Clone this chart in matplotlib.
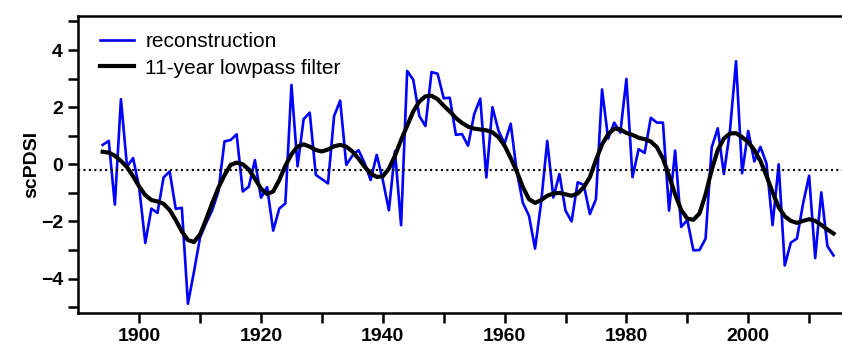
import numpy as np
import matplotlib.pyplot as plt

plt.rcParams['font.family'] = ['Liberation Sans', 'DejaVu Sans']

# годы и значения реконструкции scPDSI
years = np.arange(1894, 2015)
recon = [0.68, 0.82, -1.41, 2.28, -0.08, 0.22, -0.82, -2.75, -1.55, -1.70,
         -0.46, -0.25, -1.56, -1.52, -4.88, -3.75, -2.55, -2.05, -1.60, -0.95,
         0.80, 0.85, 1.05, -0.95, -0.78, 0.15, -1.17, -0.80, -2.32, -1.55,
         -1.37, 2.78, -0.07, 1.58, 1.81, -0.37, -0.52, -0.67, 1.69, 2.23,
         -0.02, 0.30, 0.50, 0.05, -0.55, 0.33, -0.55, -1.61, 0.46, -2.13,
         3.27, 2.96, 1.69, 1.34, 3.23, 3.17, 2.31, 2.33, 1.03, 1.06,
         0.65, 1.75, 2.30, -0.46, 2.00, 1.17, 0.73, 1.42, -0.25, -1.35,
         -1.80, -2.95, -1.33, 0.82, -1.16, -0.34, -1.62, -2.00, -0.63, -0.72,
         -1.74, -1.22, 2.62, 0.90, 1.46, 1.11, 2.99, -0.45, 0.53, 0.40,
         1.63, 1.46, 1.46, -1.62, 0.48, -2.19, -1.95, -3.01, -3.00, -2.60,
         0.59, 1.26, -0.34, 1.17, 3.61, -0.31, 1.17, 0.10, 0.61, 0.03,
         -2.13, 0.00, -3.54, -2.74, -2.60, -1.38, -0.40, -3.28, -0.98, -2.86,
         -3.19]

# 11-летний фильтр
lowpass = [0.44, 0.41, 0.30, 0.12, -0.10, -0.42, -0.78, -1.08, -1.25, -1.30,
           -1.38, -1.60, -1.95, -2.35, -2.65, -2.72, -2.45, -1.92, -1.35, -0.82,
           -0.38, -0.02, 0.06, 0.00, -0.18, -0.50, -0.85, -1.04, -0.95, -0.55,
           -0.05, 0.35, 0.62, 0.70, 0.62, 0.50, 0.45, 0.52, 0.63, 0.68,
           0.62, 0.45, 0.20, -0.08, -0.32, -0.44, -0.42, -0.15, 0.30, 0.85,
           1.35, 1.85, 2.20, 2.38, 2.40, 2.28, 2.05, 1.85, 1.62, 1.45,
           1.32, 1.25, 1.22, 1.19, 1.12, 0.95, 0.65, 0.22, -0.25, -0.80,
           -1.22, -1.35, -1.25, -1.10, -1.02, -1.00, -1.05, -1.10, -1.02, -0.80,
           -0.45, 0.15, 0.70, 1.05, 1.25, 1.22, 1.10, 1.03, 0.93, 0.88,
           0.80, 0.60, 0.20, -0.40, -1.05, -1.60, -1.90, -1.94, -1.72, -1.05,
           -0.20, 0.50, 0.90, 1.08, 1.09, 0.95, 0.78, 0.50, 0.12, -0.40,
           -0.98, -1.50, -1.82, -1.98, -2.05, -1.98, -1.92, -1.98, -2.12, -2.28,
           -2.42]

mean_level = -0.2

fig = plt.figure(figsize=(8.42, 3.5), dpi=100)
ax = fig.add_axes([0.093, 0.106, 0.907, 0.849])

ax.plot(years, recon, color='#0000ff', lw=1.9, label='reconstruction')
ax.plot(years, lowpass, color='black', lw=3.0, label='11-year lowpass filter')
ax.axhline(mean_level, color='black', ls=(0, (1, 1.6)), lw=1.5)

ax.set_xlim(1890, 2015.4)
ax.set_ylim(-5.2, 5.2)
ax.set_xticks([1900, 1920, 1940, 1960, 1980, 2000])
ax.set_xticks(np.arange(1910, 2015, 20), minor=True)
ax.set_yticks([-4, -2, 0, 2, 4])
ax.set_yticks([-5, -3, -1, 1, 3, 5], minor=True)

for s in ['left', 'bottom', 'top']:
    ax.spines[s].set_linewidth(1.8)
ax.spines['right'].set_visible(False)

ax.tick_params(which='major', direction='out', length=7, width=1.8,
               labelsize=14, pad=4)
ax.tick_params(which='minor', direction='out', length=7, width=1.8)
ax.tick_params(axis='x', which='both', top=False)
for lab in ax.get_xticklabels() + ax.get_yticklabels():
    lab.set_fontweight('bold')

ax.set_ylabel('scPDSI', fontsize=14, fontweight='bold', labelpad=0)

ax.legend(loc='upper left', frameon=False, fontsize=15, handlelength=1.6,
          handletextpad=0.55, labelspacing=0.35, borderaxespad=0,
          bbox_to_anchor=(0.018, 0.972))

fig.savefig('out.png', dpi=100)
